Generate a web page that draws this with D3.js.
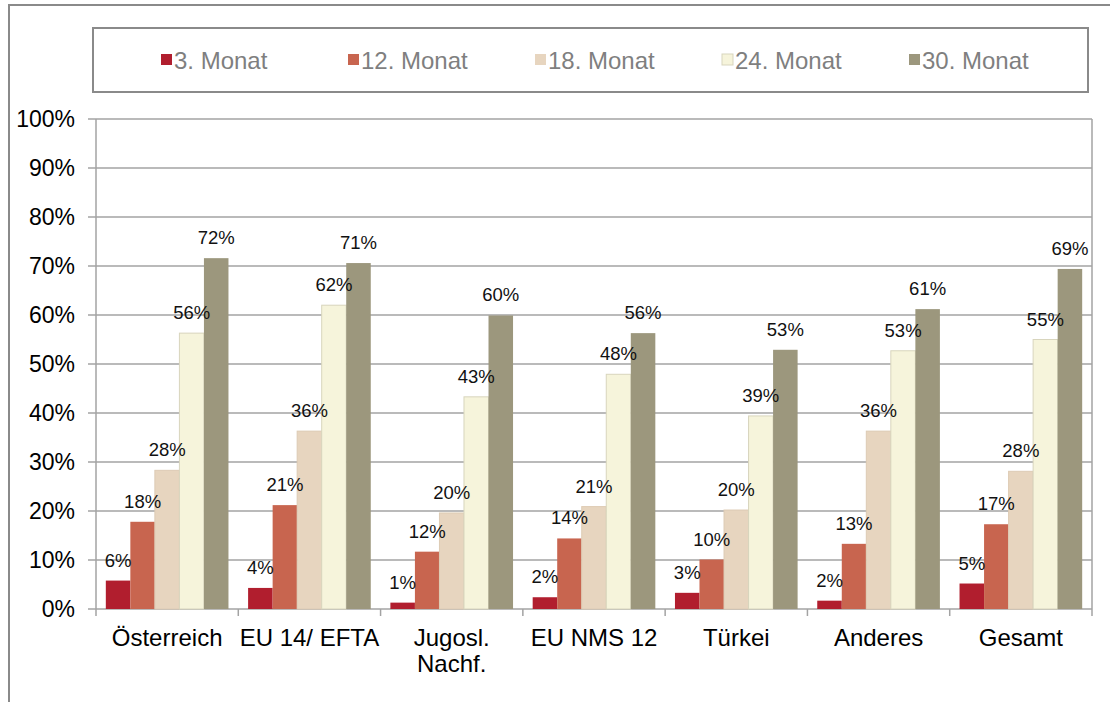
<!DOCTYPE html>
<html>
<head>
<meta charset="utf-8">
<script src="https://cdn.jsdelivr.net/npm/d3@7"></script>
<style>
  body { margin: 0; background: #fff; }
  text { font-family: "Liberation Sans", Arial, sans-serif; }
</style>
</head>
<body>
<div id="chart"></div>
<script>
// Data (share in %, per month after start)
const categories = ["Österreich", "EU 14/ EFTA", "Jugosl.\nNachf.", "EU NMS 12", "Türkei", "Anderes", "Gesamt"];
const seriesNames = ["3. Monat", "12. Monat", "18. Monat", "24. Monat", "30. Monat"];
const seriesColors = ["#b11e2e", "#c8654f", "#e7d5bf", "#f6f4db", "#9c977d"];
const m3  = [5.8, 4.3, 1.3, 2.4, 3.3, 1.7, 5.2];
const m12 = [17.8, 21.2, 11.7, 14.4, 10.1, 13.3, 17.3];
const m18 = [28.3, 36.3, 19.6, 20.9, 20.2, 36.3, 28.1];
const m24 = [56.3, 62.0, 43.3, 47.9, 39.4, 52.7, 55.0];
const m30 = [71.6, 70.6, 59.9, 56.3, 52.9, 61.2, 69.4];
const yTicks = [0, 10, 20, 30, 40, 50, 60, 70, 80, 90, 100];

const values = [m3, m12, m18, m24, m30];

const W = 1110, H = 702;
const plot = { left: 96, right: 1092, top: 119, bottom: 609 };

const svg = d3.select("#chart").append("svg")
    .attr("width", W)
    .attr("height", H);

// outer chart frame (runs past the picture on right and bottom)
svg.append("rect")
    .attr("x", 9).attr("y", 5)
    .attr("width", 1120).attr("height", 720)
    .attr("fill", "none")
    .attr("stroke", "#8a8a8a")
    .attr("stroke-width", 2);

// scales
const x = d3.scaleBand()
    .domain(d3.range(categories.length))
    .range([plot.left, plot.right])
    .padding(0);

const gap = x.bandwidth() * 0.069;
const xs = d3.scaleBand()
    .domain(d3.range(seriesNames.length))
    .range([gap, x.bandwidth() - gap])
    .padding(0);

const y = d3.scaleLinear()
    .domain([0, 100])
    .range([plot.bottom, plot.top]);

// gridlines
svg.append("g")
    .selectAll("line")
    .data(yTicks)
    .join("line")
    .attr("x1", plot.left - 8)
    .attr("x2", plot.right)
    .attr("y1", d => y(d))
    .attr("y2", d => y(d))
    .attr("stroke", "#a3a3a3")
    .attr("stroke-width", 1.5);

// plot area border (left and right)
svg.append("line")
    .attr("x1", plot.left).attr("x2", plot.left)
    .attr("y1", plot.top).attr("y2", plot.bottom)
    .attr("stroke", "#a3a3a3").attr("stroke-width", 1.5);
svg.append("line")
    .attr("x1", plot.right).attr("x2", plot.right)
    .attr("y1", plot.top).attr("y2", plot.bottom)
    .attr("stroke", "#a3a3a3").attr("stroke-width", 1.5);

// y labels
svg.append("g")
    .selectAll("text")
    .data(yTicks)
    .join("text")
    .attr("x", 75)
    .attr("y", d => y(d))
    .attr("dy", "0.36em")
    .attr("text-anchor", "end")
    .attr("font-size", 23)
    .attr("fill", "#000")
    .text(d => d + "%");

// x ticks at category boundaries
const bounds = d3.range(categories.length + 1).map(i => plot.left + i * x.step());
svg.append("g")
    .selectAll("line")
    .data(bounds)
    .join("line")
    .attr("x1", d => d).attr("x2", d => d)
    .attr("y1", plot.bottom).attr("y2", plot.bottom + 7)
    .attr("stroke", "#a3a3a3")
    .attr("stroke-width", 1.5);

// bars
seriesNames.forEach((name, s) => {
    svg.append("g")
        .selectAll("rect")
        .data(values[s])
        .join("rect")
        .attr("x", (d, i) => x(i) + xs(s))
        .attr("y", d => y(d))
        .attr("width", xs.bandwidth())
        .attr("height", d => y(0) - y(d))
        .attr("fill", seriesColors[s])
        .attr("stroke", s === 3 ? "#d8d5bd" : (s === 2 ? "#ddcbb4" : "none"))
        .attr("stroke-width", 1);
});

// data labels
seriesNames.forEach((name, s) => {
    svg.append("g")
        .selectAll("text")
        .data(values[s])
        .join("text")
        .attr("x", (d, i) => x(i) + xs(s) + xs.bandwidth() / 2)
        .attr("y", d => y(d) - 14)
        .attr("text-anchor", "middle")
        .attr("font-size", 18.5)
        .attr("fill", "#111")
        .text(d => Math.round(d) + "%");
});

// category labels
const catG = svg.append("g");
categories.forEach((c, i) => {
    const t = catG.append("text")
        .attr("x", x(i) + x.bandwidth() / 2)
        .attr("y", 646)
        .attr("text-anchor", "middle")
        .attr("font-size", 24)
        .attr("fill", "#000");
    c.split("\n").forEach((line, k) => {
        t.append("tspan")
            .attr("x", x(i) + x.bandwidth() / 2)
            .attr("dy", k === 0 ? 0 : 26)
            .text(line);
    });
});

// legend
svg.append("rect")
    .attr("x", 93).attr("y", 28)
    .attr("width", 995).attr("height", 64)
    .attr("fill", "#fff")
    .attr("stroke", "#8a8a8a")
    .attr("stroke-width", 2);

const legend = svg.append("g")
    .selectAll("g")
    .data(seriesNames)
    .join("g")
    .attr("transform", (d, i) => `translate(${161 + i * 187},60)`);

legend.append("rect")
    .attr("x", 0).attr("y", -6)
    .attr("width", 11).attr("height", 11)
    .attr("fill", (d, i) => seriesColors[i])
    .attr("stroke", (d, i) => i === 3 ? "#d8d5bd" : "none");

legend.append("text")
    .attr("x", 13)
    .attr("y", 0)
    .attr("dy", "0.36em")
    .attr("font-size", 24)
    .attr("fill", "#7f7f7f")
    .text(d => d);
</script>
</body>
</html>
